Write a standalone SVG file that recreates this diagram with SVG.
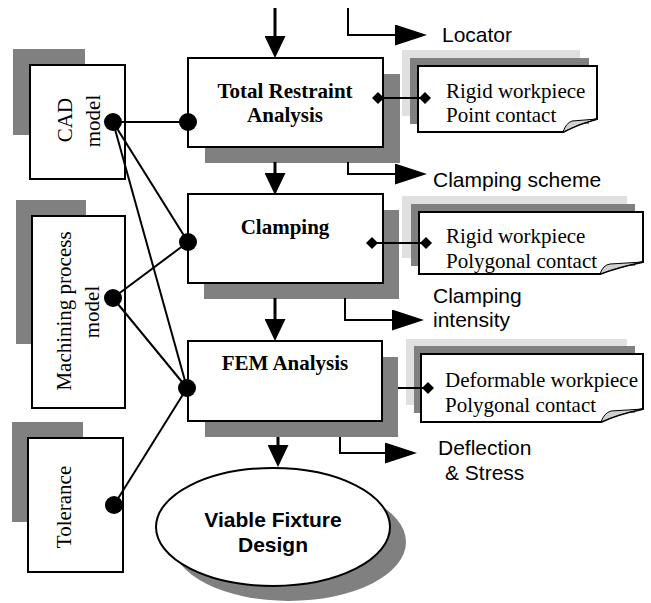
<svg xmlns="http://www.w3.org/2000/svg" width="651" height="603" viewBox="0 0 651 603">
<style>
.box{fill:#fff;stroke:#000;stroke-width:2}
.sh{fill:#808080}
.lt{fill:#e0e0e0}
.ser{font-family:"Liberation Serif","Times New Roman",serif;font-size:21px;fill:#000}
.bold{font-weight:bold}
.sans{font-family:"Liberation Sans",Arial,sans-serif;font-size:21px;fill:#000}
.ln{fill:none;stroke:#000;stroke-width:2}
.shaft{fill:none;stroke:#000;stroke-width:3}
.fold{fill:#d0d0d0;stroke:#000;stroke-width:1}
</style>
<defs>
<marker id="dn" viewBox="0 0 22 21" refX="0" refY="10.5" markerWidth="22" markerHeight="21" markerUnits="userSpaceOnUse" orient="auto"><path d="M0,0 L22,10.5 L0,21 Z" fill="#000"/></marker>
<marker id="rt" viewBox="0 0 32 21" refX="0" refY="10.5" markerWidth="32" markerHeight="21" markerUnits="userSpaceOnUse" orient="auto"><path d="M0,0 L32,10.5 L0,21 Z" fill="#000"/></marker>
</defs>

<g id="cad">
<rect class="sh" x="13" y="49" width="72" height="86"/>
<rect class="box" x="30" y="65" width="95" height="114"/>
<text class="ser" text-anchor="middle" transform="translate(72,120) rotate(-90)">CAD</text>
<text class="ser" text-anchor="middle" transform="translate(100,121) rotate(-90)">model</text>
</g>
<g id="machining">
<rect class="sh" x="16" y="200" width="70" height="144"/>
<rect class="box" x="32" y="216" width="93" height="192"/>
<text class="ser" text-anchor="middle" transform="translate(71,311) rotate(-90)">Machining process</text>
<text class="ser" text-anchor="middle" transform="translate(99,312) rotate(-90)">model</text>
</g>
<g id="tolerance">
<rect class="sh" x="12" y="422" width="71" height="100"/>
<rect class="box" x="28" y="438" width="95" height="134"/>
<text class="ser" text-anchor="middle" transform="translate(71,507) rotate(-90)">Tolerance</text>
</g>

<g id="tra">
<rect class="sh" x="205" y="74" width="195" height="89"/>
<rect class="box" x="188" y="58" width="195" height="89"/>
<text class="ser bold" text-anchor="middle" x="285" y="98">Total Restraint</text>
<text class="ser bold" text-anchor="middle" x="285" y="122">Analysis</text>
</g>
<g id="clamping">
<rect class="sh" x="204" y="210" width="195" height="89"/>
<rect class="box" x="188" y="194" width="195" height="89"/>
<text class="ser bold" text-anchor="middle" x="285" y="234">Clamping</text>
</g>
<g id="fem">
<rect class="sh" x="205" y="357" width="193" height="80"/>
<rect class="box" x="188" y="341" width="194" height="80"/>
<text class="ser bold" text-anchor="middle" x="285" y="370">FEM Analysis</text>
</g>
<g id="design">
<ellipse class="sh" cx="289" cy="542" rx="117" ry="59"/>
<ellipse class="box" cx="273" cy="527" rx="117" ry="59"/>
<text class="sans bold" text-anchor="middle" x="273" y="527">Viable Fixture</text>
<text class="sans bold" text-anchor="middle" x="273" y="552">Design</text>
</g>

<g id="note1">
<rect class="lt" x="402" y="50" width="178" height="66"/>
<rect class="sh" x="410" y="58" width="179" height="66"/>
<path class="box" d="M418,66 H597 V119 Q578,124 563,132 H418 Z"/>
<path class="fold" d="M563,132 Q566,123 572,121 L597,119 Q578,124 563,132 Z"/>
<text class="ser" x="446" y="98">Rigid workpiece</text>
<text class="ser" x="446" y="122">Point contact</text>
</g>
<g id="note2">
<rect class="lt" x="402" y="196" width="225" height="62"/>
<rect class="sh" x="411" y="204" width="224" height="62"/>
<path class="box" d="M419,212 H643 V262 Q618,267 600,274 H419 Z"/>
<path class="fold" d="M600,274 Q603,265 610,264 L643,262 Q618,267 600,274 Z"/>
<text class="ser" x="446" y="243">Rigid workpiece</text>
<text class="ser" x="446" y="268">Polygonal contact</text>
</g>
<g id="note3">
<rect class="lt" x="406" y="339" width="221" height="66"/>
<rect class="sh" x="414" y="346" width="221" height="67"/>
<path class="box" d="M421,354 H643 V409 Q618,414 601,422 H421 Z"/>
<path class="fold" d="M601,422 Q604,413 611,411 L643,409 Q618,414 601,422 Z"/>
<text class="ser" x="445" y="387">Deformable workpiece</text>
<text class="ser" x="445" y="412">Polygonal contact</text>
</g>

<g id="labels">
<text class="sans" x="442" y="42">Locator</text>
<text class="sans" x="433" y="187">Clamping scheme</text>
<text class="sans" x="433" y="303">Clamping</text>
<text class="sans" x="433" y="327">intensity</text>
<text class="sans" x="438" y="455">Deflection</text>
<text class="sans" x="445" y="480">&amp; Stress</text>
</g>

<g id="connectors">
<line class="ln" x1="113" y1="122" x2="188" y2="122"/>
<line class="ln" x1="113" y1="122" x2="188" y2="242"/>
<line class="ln" x1="113" y1="122" x2="187" y2="388"/>
<line class="ln" x1="113" y1="298" x2="188" y2="242"/>
<line class="ln" x1="113" y1="298" x2="187" y2="388"/>
<line class="ln" x1="114" y1="505" x2="187" y2="388"/>
<circle cx="113" cy="122" r="9"/>
<circle cx="188" cy="122" r="9"/>
<circle cx="188" cy="242" r="9"/>
<circle cx="113" cy="298" r="9"/>
<circle cx="187" cy="388" r="9"/>
<circle cx="114" cy="505" r="9"/>

<line class="shaft" x1="275" y1="8" x2="275" y2="36" marker-end="url(#dn)"/>
<line class="shaft" x1="275" y1="162" x2="275" y2="173" marker-end="url(#dn)"/>
<line class="shaft" x1="275" y1="298" x2="275" y2="319" marker-end="url(#dn)"/>
<line class="shaft" x1="278" y1="437" x2="278" y2="445" marker-end="url(#dn)"/>

<polyline class="ln" points="348,8 348,35 395,35" marker-end="url(#rt)"/>
<polyline class="ln" points="348,162 348,174 395,174" marker-end="url(#rt)"/>
<polyline class="ln" points="345,298 345,320 392,320" marker-end="url(#rt)"/>
<polyline class="ln" points="340,437 340,453 385,453" marker-end="url(#rt)"/>

<line class="ln" x1="378" y1="98" x2="425" y2="98"/>
<path d="M372,98 L378,92 L384,98 L378,104 Z"/>
<path d="M419,98 L425,92 L431,98 L425,104 Z"/>
<line class="ln" x1="372" y1="243" x2="426" y2="243"/>
<path d="M366,243 L372,237 L378,243 L372,249 Z"/>
<path d="M420,243 L426,237 L432,243 L426,249 Z"/>
<line class="ln" x1="398" y1="388" x2="428" y2="388"/>
<path d="M422,388 L428,382 L434,388 L428,394 Z"/>
</g>
</svg>
